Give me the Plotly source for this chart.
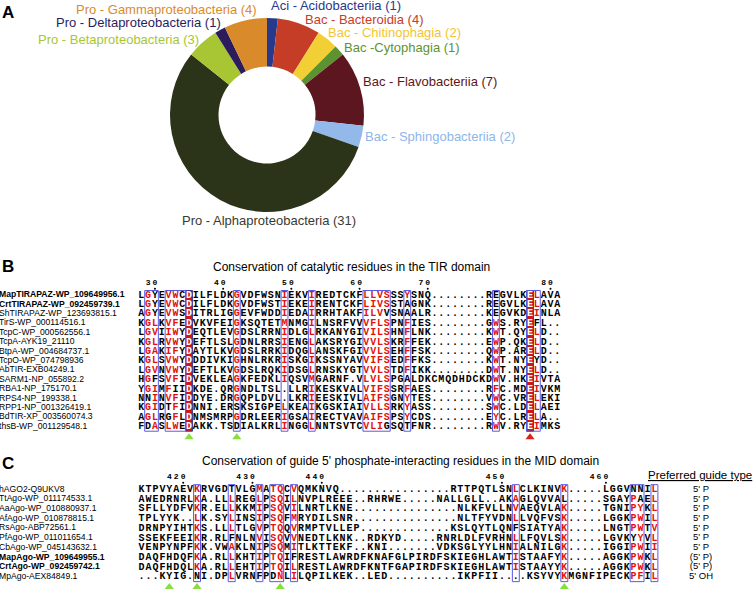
import plotly.graph_objects as go

W, H = 756, 592

# ---------------- Panel A data ----------------
taxa = ["Aci - Acidobacteriia", "Bac - Bacteroidia", "Bac - Chitinophagia", "Bac -Cytophagia",
        "Bac - Flavobacteriia", "Bac - Sphingobacteriia", "Pro - Alphaproteobacteria",
        "Pro - Betaproteobacteria", "Pro - Deltaproteobacteria", "Pro - Gammaproteobacteria"]
counts = [1, 4, 2, 1, 7, 2, 31, 3, 1, 4]
taxa_colors = ["#26398C", "#C63D27", "#F2CF34", "#5C9330", "#5C1620", "#93B8EA",
               "#2B3319", "#A8C633", "#2C1C5C", "#D98B2C"]
label_colors = ["#26398C", "#C63D27", "#F2C52E", "#5C9330", "#5C1620", "#8FB5EA",
                "#3A3A30", "#A8C633", "#2C1C5C", "#D98B2C"]
label_px = [(336, 6), (364, 19), (395, 32), (402, 47), (430, 82), (440, 137),
            (269, 221), (118, 40), (138, 22), (166, 9)]

# ---------------- Panel B data (TIR) ----------------
tir_names = ["MapTIRAPAZ-WP_109649956.1", "CrtTIRAPAZ-WP_092459739.1", "ShTIRAPAZ-WP_123693815.1",
             "TirS-WP_000114516.1", "TcpC-WP_000562556.1", "TcpA-AYK19_21110", "BtpA-WP_004684737.1",
             "TcpO-WP_074798936", "AbTIR-EXB04249.1", "SARM1-NP_055892.2", "RBA1-NP_175170.1",
             "RPS4-NP_199338.1", "RPP1-NP_001326419.1", "BdTIR-XP_003560074.3", "thsB-WP_001129548.1"]
tir_bold = [True, True] + [False] * 13
tir_seqs = [
    "LGYEVWCDILFLDKG" + "VD" + "FWSNIEKVIREDTCKFLLVSSSYSNQ" + "........" + "REGVLKELAVA",
    "LGYEVWCDILFLDKG" + "VD" + "FWSTIEKEIRENTCKFLIVSSTAGNK" + "........" + "REGVLKELAVA",
    "AGYEVWSDITRLIGG" + "EV" + "FWDDIEDAIRRHTAKFILVVSNAALR" + "........" + "KEGVKDEINLA",
    "KGLKVFEDVKVFEIG" + "KS" + "QTETMNMGILNSRFVVVFLSPNFIES" + "........" + "GWS.RYEFL..",
    "LGVIIWYDEQTLEVG" + "DS" + "LRRNIDLGLRKANYGIVILSHNFLNK" + "........" + "KWT.QYELD..",
    "KGLRVWYDEFTLSLG" + "DN" + "LRRSIENGLAKSRYGIVVLSKRFFEK" + "........" + "EWP.QKELD..",
    "LGAKIFYDAYTLKVG" + "DS" + "LRRKIDQGLANSKFGIVVLSEHFFSK" + "........" + "QWP.ARELD..",
    "KGLSVWYDDDIVKIG" + "HN" + "LRKRISKGIKSSNYAVVIFSEDFFKS" + "........" + "KWT.NYEYD..",
    "LGVNVWYDEFTLKVG" + "DS" + "LRQKIDSGLRNSKYGTVVLSTDFIKK" + "........" + "DWT.NYELD..",
    "HGFSVFIDVEKLEAG" + "KF" + "EDKLIQSVMGARNF.VLVLSPGALDK" + "CMQDHDCK" + "DWV.HKEIVTA",
    "YGIMFIIDKDE.QRG" + "ND" + "LTSL.LLRIKESKVALVIFSSRFAES" + "........" + "RFC.MDEIVKM",
    "NNINVFIDDYE.DRG" + "QP" + "LDVL.LKRIEESKIVLAIFSGNYTES" + "........" + "VWC.VRELEKI",
    "KGIDTFIDNNI.ERS" + "KS" + "IGPELKEAIKGSKIAIVLLSRKYASS" + "........" + "SWC.LDELAEI",
    "AGLRGFLDNMSMRPG" + "DR" + "LEERIGSAIRECTVAVAIFSPSYCDS" + "........" + "EYC.LRELA..",
    "FDASLWEDAKK.TSD" + "IA" + "LKRLINGGLNNTSVTCVLIGSQTFNR" + "........" + "RWV.RYEIMKS",
]
tir_ticks = [30, 40, 50, 60, 70, 80]
tir_tick_cols = [2, 12, 22, 32, 42, 60]
tir_boxes = [(1, 2), (4, 6), (14, 14), (21, 21), (25, 25), (33, 36), (39, 39), (52, 52), (57, 58)]
tir_filled = [7, 57]
tir_red = {1: "G", 2: "LIVA", 4: "VILF", 5: "WF", 14: "G", 21: "IML", 25: "ILM", 33: "LVAI",
           34: "LIVF", 35: "VLIF", 36: "S", 39: "FY", 52: "WFY", 58: "LI"}
tir_green_cols = [7, 14]
tir_red_cols = [57]

# ---------------- Panel C data (MID) ----------------
mid_names = ["hAGO2-Q9UKV8", "TtAgo-WP_011174533.1", "AaAgo-WP_010880937.1", "AfAgo-WP_010878815.1",
             "RsAgo-ABP72561.1", "PfAgo-WP_011011654.1", "CbAgo-WP_045143632.1",
             "MapAgo-WP_109649955.1", "CrtAgo-WP_092459742.1", "MpAgo-AEX84849.1"]
mid_bold = [False] * 7 + [True, True, False]
mid_seqs = [
    "KTPVYAEVKRVGDTVLGMATQCVQMKNVQ" + "." * 16 + "RTTPQTLSN" + "LCLKINVK" + "....." + "LGGVNNIL",
    "AWEDRNRLKA.LLLREGLPSQILN" + "VPLREEE..RHRWE.....NALLGLL" + "..AKAGLQVVAL" + "....." + "SGAYPAEL",
    "SFLLYDFVKR.ELLKKMIPSQVILN" + "RTLKNE" + "." * 15 + "NLK" + "FVLLNVAEQVLAK" + "....." + "TGNIPYKL",
    "TPLYYK..LK.SYLINSIPSQFMR" + "YDILSNR" + "." * 15 + "NLT" + "FYVDNLLVQFVSK" + "....." + "LGGKPWIL",
    "DRNPYIHTKS.LLLTLGVPTQQVR" + "MPTVLLEP" + "." * 13 + "KSLQY" + "TLQNFSIATYAK" + "....." + "LNGTPWTV",
    "SSEKFEEIKR.RLFNLNVISQVVN" + "EDTLKNK..RDKYD.....RNRLDLF" + "VRHNLLFQVLSK" + "....." + "LGVKYYVL",
    "VENPYNPFKK.VWAKLNIPSQMIT" + "LKTTEKF..KNI.......VDKSGLY" + "YLHNIALNILGK" + "....." + "IGGIPWII",
    "DAQFHDQFKA.RLLKHTIPTQIFR" + "ESTLAWRDFKNAFGLPIRDFSKIEGH" + "LAWTISTAAFYK" + "....." + "AGGKPWKL",
    "DAQFHDQLKA.RLLEHTIPTQILR" + "ESTLAWRDFKNTFGAPIRDFSKIEGH" + "LAWTISTAAYYK" + "....." + "AGGKPWKL",
    "...KYIG.NI.DPLVRNFPDNLIL" + "QPILKEK..LED" + "." * 10 + "IKPF" + "II....KSYVYK" + "MGNFIPECKPFIL",
]
mid_guide = ["5' P"] * 7 + ["(5' P)", "(5' P)", "5' OH"]
mid_ticks = [420, 430, 440, 450, 460]
mid_tick_cols = [6, 16, 26, 52, 67]
mid_boxes = [(8, 8), (13, 13), (17, 17), (19, 20), (22, 22), (54, 54), (61, 61), (71, 72), (74, 74)]
mid_filled = []
mid_red = {8: "KL", 13: "LA", 17: "MLIV", 19: "TS", 20: "QN", 22: "VLIM", 54: "LAVI", 61: "K",
           71: "P", 72: "WYF", 74: "LVI"}
mid_green_cols = [4, 8, 20, 61]
mid_red_cols = []

# ---------------- styling ----------------
MONO = "Liberation Mono, DejaVu Sans Mono, monospace"
SANS = "Liberation Sans, Arial, sans-serif"
RED = "#E3120B"
BOXC = "#5A5AE0"
FILLC = "#D0151A"

# pixel geometry of the two alignment panels (col centre = a + b*col, row centre = y0 + dy*row)
geomB = dict(a=141.3, b=6.82, y0=295.2, dy=9.38, ax="x", ay="y")
geomC = dict(a=141.6, b=6.93, y0=489.5, dy=9.7, ax="x2", ay="y2")


def axis_ranges(g):
    xr = [(0 - g["a"]) / g["b"], (W - g["a"]) / g["b"]]
    yr = [(H - g["y0"]) / g["dy"], (0 - g["y0"]) / g["dy"]]
    return xr, yr


fig = go.Figure()

# Panel A donut
cx, cy, R = 267, 115, 97
fig.add_trace(go.Pie(
    values=counts, labels=taxa, sort=False, direction="clockwise", rotation=0, hole=0.5,
    textinfo="none", hoverinfo="label+value", showlegend=False,
    marker=dict(colors=taxa_colors, line=dict(width=0)),
    domain=dict(x=[(cx - R) / W, (cx + R) / W], y=[1 - (cy + R) / H, 1 - (cy - R) / H]),
))

annotations = []
for name, n, col, (px, py) in zip(taxa, counts, label_colors, label_px):
    annotations.append(dict(x=px / W, y=1 - py / H, xref="paper", yref="paper",
                            text=f"{name} ({n})", showarrow=False, xanchor="center", yanchor="middle",
                            font=dict(family=SANS, size=13, color=col)))

shapes = []


def add_alignment(g, names, bold, seqs, ticks, tick_cols, boxes, filled, red_rules, green_cols, red_cols,
                  tri_row):
    ax, ay = g["ax"], g["ay"]
    nrows = len(seqs)
    for c in filled:
        shapes.append(dict(type="rect", xref=ax, yref=ay, x0=c - 0.5, x1=c + 0.5, y0=-0.5, y1=nrows - 0.5,
                           fillcolor=FILLC, line=dict(color="#3A3A9A", width=1), layer="below"))
    for c0, c1 in boxes:
        shapes.append(dict(type="rect", xref=ax, yref=ay, x0=c0 - 0.5, x1=c1 + 0.5, y0=-0.5, y1=nrows - 0.5,
                           fillcolor="rgba(0,0,0,0)", line=dict(color=BOXC, width=1), layer="above"))
    xs, ys, ts, cs = [], [], [], []
    for r, s in enumerate(seqs):
        for c, ch in enumerate(s):
            xs.append(c)
            ys.append(r)
            ts.append(ch)
            if c in filled:
                cs.append("white")
            elif c in red_rules and ch in red_rules[c]:
                cs.append(RED)
            else:
                cs.append("black")
    fig.add_trace(go.Scatter(x=xs, y=ys, text=ts, mode="text", xaxis=ax, yaxis=ay,
                             textfont=dict(family=MONO, size=10, color=cs, weight="bold"),
                             hoverinfo="skip", showlegend=False))
    name_x = (-1 - g["a"]) / g["b"]
    fig.add_trace(go.Scatter(x=[name_x] * nrows, y=list(range(nrows)),
                             text=[f"<b>{n}</b>" if b else n for n, b in zip(names, bold)],
                             mode="text", textposition="middle right", xaxis=ax, yaxis=ay,
                             textfont=dict(family=SANS, size=8.6, color="black"),
                             hoverinfo="skip", showlegend=False))
    dx, dy_, dt = [], [], []
    for v, c in zip(ticks, tick_cols):
        s = str(v)
        for k, d in enumerate(s):
            dx.append(c - (len(s) - 1 - k))
            dy_.append(-1.3)
            dt.append(d)
    fig.add_trace(go.Scatter(x=dx, y=dy_, text=dt, mode="text", xaxis=ax, yaxis=ay,
                             textfont=dict(family=MONO, size=8, color="black", weight="bold"),
                             hoverinfo="skip", showlegend=False))
    fig.add_trace(go.Scatter(x=tick_cols, y=[-0.7] * len(tick_cols), mode="markers", xaxis=ax, yaxis=ay,
                             marker=dict(size=2, color="black"), hoverinfo="skip", showlegend=False))
    if green_cols:
        fig.add_trace(go.Scatter(x=green_cols, y=[tri_row] * len(green_cols), mode="markers", xaxis=ax, yaxis=ay,
                                 marker=dict(symbol="triangle-up", size=8, color="#86E03C"),
                                 hoverinfo="skip", showlegend=False))
    if red_cols:
        fig.add_trace(go.Scatter(x=red_cols, y=[tri_row] * len(red_cols), mode="markers", xaxis=ax, yaxis=ay,
                                 marker=dict(symbol="triangle-up", size=8, color="#E0201A"),
                                 hoverinfo="skip", showlegend=False))


add_alignment(geomB, tir_names, tir_bold, tir_seqs, tir_ticks, tir_tick_cols, tir_boxes, tir_filled, tir_red,
              tir_green_cols, tir_red_cols, tri_row=(437.3 - geomB["y0"]) / geomB["dy"])
add_alignment(geomC, mid_names, mid_bold, mid_seqs, mid_ticks, mid_tick_cols, mid_boxes, mid_filled, mid_red,
              mid_green_cols, mid_red_cols, tri_row=(587 - geomC["y0"]) / geomC["dy"])

# preferred guide type column
gx = (701 - geomC["a"]) / geomC["b"]
fig.add_trace(go.Scatter(x=[gx] * len(mid_guide), y=list(range(len(mid_guide))), text=mid_guide, mode="text",
                         xaxis="x2", yaxis="y2", textfont=dict(family=SANS, size=9.5, color="black"),
                         hoverinfo="skip", showlegend=False))

for letter, py in (("A", 13), ("B", 266), ("C", 463)):
    annotations.append(dict(x=8 / W, y=1 - py / H, xref="paper", yref="paper", text=f"<b>{letter}</b>",
                            showarrow=False, xanchor="center", yanchor="middle",
                            font=dict(family=SANS, size=17, color="black")))
annotations.append(dict(x=351 / W, y=1 - 267 / H, xref="paper", yref="paper",
                        text="Conservation of catalytic residues in the TIR domain", showarrow=False,
                        xanchor="center", yanchor="middle", font=dict(family=SANS, size=12, color="black")))
annotations.append(dict(x=400 / W, y=1 - 461 / H, xref="paper", yref="paper",
                        text="Conservation of guide 5' phosphate-interacting residues in the MID domain",
                        showarrow=False, xanchor="center", yanchor="middle",
                        font=dict(family=SANS, size=12, color="black")))
annotations.append(dict(x=754 / W, y=1 - 475 / H, xref="paper", yref="paper",
                        text="<u>Preferred guide type</u>", showarrow=False, xanchor="right", yanchor="middle",
                        font=dict(family=SANS, size=11.5, color="black")))

xrB, yrB = axis_ranges(geomB)
xrC, yrC = axis_ranges(geomC)
fig.update_layout(
    width=W, height=H, margin=dict(l=0, r=0, t=0, b=0),
    paper_bgcolor="white", plot_bgcolor="rgba(0,0,0,0)",
    xaxis=dict(domain=[0, 1], range=xrB, visible=False, anchor="y", fixedrange=True),
    yaxis=dict(domain=[0, 1], range=yrB, visible=False, anchor="x", fixedrange=True),
    xaxis2=dict(domain=[0, 1], range=xrC, visible=False, anchor="y2", fixedrange=True),
    yaxis2=dict(domain=[0, 1], range=yrC, visible=False, anchor="x2", fixedrange=True),
    shapes=shapes, annotations=annotations, showlegend=False,
)
fig.write_html("out.html", config={"displayModeBar": False},
               post_script="document.body.style.margin='0px';document.body.style.overflow='hidden';")
